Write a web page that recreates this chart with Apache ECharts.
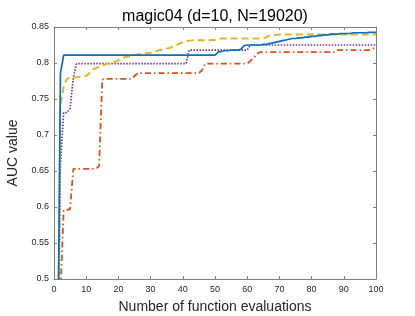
<!DOCTYPE html>
<html>
<head>
<meta charset="utf-8">
<script src="https://cdn.jsdelivr.net/npm/echarts@6/dist/echarts.min.js"></script>
<style>html,body{margin:0;padding:0;background:#fff}#c{width:415px;height:316px}</style>
</head>
<body>
<div id="c"></div>
<script>
var titleText = 'magic04 (d=10, N=19020)';
var xName = 'Number of function evaluations';
var yName = 'AUC value';
var xTicks = [0, 10, 20, 30, 40, 50, 60, 70, 80, 90, 100];
var yTicks = [0.5, 0.55, 0.6, 0.65, 0.7, 0.75, 0.8, 0.85];
var evals = [];
for (var i = 1; i <= 100; i++) evals.push(i);

var blueVals = [
0.30,0.786,0.811,0.811,0.811,0.811,0.811,0.811,0.811,0.811,
0.811,0.811,0.811,0.811,0.811,0.811,0.811,0.811,0.811,0.811,
0.811,0.811,0.811,0.811,0.811,0.811,0.811,0.811,0.811,0.811,
0.811,0.811,0.811,0.811,0.811,0.811,0.811,0.811,0.811,0.811,
0.811,0.811,0.811,0.811,0.811,0.811,0.811,0.811,0.811,0.811,
0.815,0.816,0.817,0.817,0.818,0.818,0.818,0.819,0.824,0.825,
0.825,0.825,0.825,0.825,0.826,0.826,0.827,0.828,0.829,0.830,
0.831,0.832,0.833,0.834,0.834,0.835,0.835,0.836,0.836,0.837,
0.837,0.838,0.838,0.839,0.839,0.840,0.840,0.840,0.841,0.841,
0.841,0.841,0.842,0.842,0.842,0.842,0.842,0.8425,0.8425,0.8425];

var orangeVals = [
0.30,0.742,0.767,0.778,0.780,0.780,0.780,0.781,0.781,0.782,
0.786,0.791,0.793,0.795,0.796,0.798,0.800,0.801,0.802,0.804,
0.806,0.808,0.809,0.810,0.811,0.812,0.8125,0.813,0.8135,0.814,
0.815,0.817,0.818,0.819,0.820,0.821,0.823,0.825,0.827,0.829,
0.830,0.831,0.8315,0.8315,0.8315,0.8315,0.8315,0.8315,0.832,0.832,
0.833,0.834,0.834,0.834,0.834,0.834,0.834,0.834,0.834,0.834,
0.834,0.834,0.834,0.834,0.834,0.836,0.838,0.838,0.839,0.8395,
0.8395,0.8395,0.8395,0.8395,0.8395,0.8395,0.8395,0.8395,0.8395,0.8395,
0.8395,0.8395,0.8395,0.8395,0.8395,0.8395,0.8395,0.8395,0.8395,0.8395,
0.8395,0.8395,0.8395,0.8395,0.8395,0.8395,0.8395,0.8395,0.8395,0.8395];

var purpleVals = [
0.30,0.66,0.731,0.731,0.737,0.780,0.799,0.799,0.799,0.799,
0.799,0.799,0.799,0.799,0.799,0.799,0.799,0.799,0.799,0.799,
0.799,0.799,0.799,0.799,0.799,0.799,0.799,0.799,0.799,0.799,
0.799,0.799,0.799,0.799,0.799,0.799,0.799,0.799,0.799,0.799,
0.799,0.818,0.818,0.818,0.818,0.818,0.818,0.818,0.818,0.818,
0.818,0.818,0.818,0.818,0.818,0.818,0.818,0.818,0.818,0.818,
0.825,0.825,0.825,0.825,0.825,0.825,0.825,0.825,0.825,0.825,
0.825,0.825,0.825,0.825,0.825,0.825,0.825,0.825,0.825,0.825,
0.825,0.825,0.825,0.825,0.825,0.825,0.825,0.825,0.825,0.825,
0.825,0.825,0.825,0.825,0.825,0.825,0.825,0.825,0.825,0.825];

var redVals = [
0.30,0.48,0.596,0.596,0.597,0.653,0.653,0.653,0.653,0.653,
0.653,0.653,0.653,0.657,0.777,0.778,0.778,0.778,0.778,0.778,
0.778,0.778,0.778,0.778,0.782,0.786,0.786,0.786,0.786,0.786,
0.786,0.786,0.786,0.786,0.786,0.786,0.786,0.786,0.786,0.786,
0.786,0.786,0.786,0.786,0.786,0.790,0.799,0.799,0.799,0.799,
0.799,0.799,0.799,0.799,0.799,0.799,0.799,0.799,0.799,0.799,
0.803,0.807,0.813,0.815,0.815,0.815,0.815,0.815,0.815,0.815,
0.815,0.815,0.815,0.815,0.815,0.815,0.815,0.815,0.815,0.815,
0.815,0.815,0.815,0.815,0.815,0.815,0.815,0.818,0.818,0.818,
0.818,0.818,0.818,0.818,0.818,0.818,0.818,0.818,0.820,0.822];

function pairs(vals) { return evals.map(function (x, k) { return [x, vals[k]]; }); }

var axisGray = '#808080';
var labelColor = '#262626';
var font = 'Liberation Sans, Arial, Helvetica, sans-serif';

var chart = echarts.init(document.getElementById('c'), null, { renderer: 'canvas' });
var baseX = {
  type: 'value', min: xTicks[0], max: xTicks[xTicks.length - 1], interval: 10,
  axisLine: { show: true, onZero: false, lineStyle: { color: axisGray, width: 1 } },
  axisTick: { show: true, inside: true, length: 3, lineStyle: { color: axisGray } },
  splitLine: { show: false }
};
var baseY = {
  type: 'value', min: yTicks[0], max: yTicks[yTicks.length - 1], interval: 0.05,
  axisLine: { show: true, onZero: false, lineStyle: { color: axisGray, width: 1 } },
  axisTick: { show: true, inside: true, length: 3, lineStyle: { color: axisGray } },
  splitLine: { show: false }
};
function lineSeries(name, vals, color, type, width) {
  return {
    name: name, type: 'line', data: pairs(vals), showSymbol: false, symbol: 'none',
    clip: true, animation: false,
    lineStyle: { color: color, width: width, type: type, cap: 'butt' }
  };
}
chart.setOption({
  animation: false,
  backgroundColor: '#fff',
  title: {
    text: titleText, left: 210, top: 4, textAlign: 'center',
    textStyle: { fontFamily: font, fontSize: 16, fontWeight: 'normal', color: '#000' }
  },
  grid: { left: 54, right: 39, top: 27, bottom: 37, containLabel: false, outerBoundsMode: 'none' },
  xAxis: [
    Object.assign({}, baseX, {
      position: 'bottom', name: xName, nameLocation: 'middle', nameGap: 21,
      nameTextStyle: { fontFamily: font, fontSize: 14, color: '#262626', verticalAlign: 'top' },
      axisLabel: { show: true, margin: 6, fontFamily: font, fontSize: 9, color: labelColor }
    }),
    Object.assign({}, baseX, { position: 'top', axisLabel: { show: false } })
  ],
  yAxis: [
    Object.assign({}, baseY, {
      position: 'left', name: yName, nameLocation: 'middle', nameGap: 33,
      nameTextStyle: { fontFamily: font, fontSize: 14, color: '#262626' },
      axisLabel: { show: true, margin: 5, fontFamily: font, fontSize: 9, color: labelColor }
    }),
    Object.assign({}, baseY, { position: 'right', axisLabel: { show: false } })
  ],
  series: [
    lineSeries('red', redVals, '#D95319', [6, 3, 1.5, 3], 1.8),
    lineSeries('purple', purpleVals, '#7E2F8E', [1.5, 1.5], 1.7),
    lineSeries('orange', orangeVals, '#EDB120', [7, 4], 1.9),
    lineSeries('blue', blueVals, '#0072BD', 'solid', 1.7)
  ]
});
</script>
</body>
</html>
